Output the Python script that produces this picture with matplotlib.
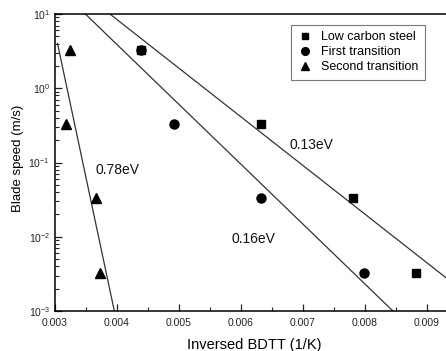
import numpy as np
import matplotlib.pyplot as plt

plt.rcParams["font.family"] = ["Liberation Sans", "DejaVu Sans"]

# Inverse brittle-ductile transition temperature (1/K) vs blade speed (m/s)
steel_x = [0.00439, 0.00633, 0.00780, 0.00883]
steel_v = [3.3, 0.33, 0.033, 0.0033]
first_x = [0.00439, 0.00492, 0.00633, 0.00799]
first_v = [3.3, 0.33, 0.033, 0.0033]
second_x = [0.00324, 0.00317, 0.00366, 0.00373]
second_v = [3.3, 0.33, 0.033, 0.0033]

# Arrhenius fits: activation energy (eV), x where v = 1e-3, drawn x range
fit_energy = [0.13, 0.16, 0.78]
fit_x_bottom = [0.00999, 0.00845, 0.003957]
fit_x_range = [(0.00389, 0.0100), (0.00339, 0.00845), (0.00304, 0.003957)]
fit_labels = ["0.13eV", "0.16eV", "0.78eV"]
label_pos = [(0.00679, 0.172), (0.00584, 0.0093), (0.00365, 0.079)]

K_B = 8.617e-5

fig = plt.figure(figsize=(4.46, 3.51), dpi=100)
# axes run past the right edge of the figure
ax = fig.add_axes([55 / 446, 1 - 311 / 351, 434 / 446, 297 / 351])

for E, xb, (x0, x1), lab, (tx, ty) in zip(fit_energy, fit_x_bottom, fit_x_range,
                                         fit_labels, label_pos):
    slope = E / (K_B * np.log(10))
    xs = np.array([x0, x1])
    ax.plot(xs, 10 ** (-3 + slope * (xb - xs)), color="#333333", lw=0.9)
    ax.text(tx, ty, lab, fontsize=10, color="#111111", va="center")

ax.plot(steel_x, steel_v, "s", color="black", ms=5.5, label="Low carbon steel")
ax.plot(first_x, first_v, "o", color="black", ms=6.5, label="First transition")
ax.plot(second_x, second_v, "^", color="black", ms=6.5, label="Second transition")

ax.set_yscale("log")
ax.set_xlim(0.003, 0.010)
ax.set_ylim(1e-3, 10)
ax.set_xticks([0.003, 0.004, 0.005, 0.006, 0.007, 0.008, 0.009])
ax.set_xticklabels(["0.003", "0.004", "0.005", "0.006", "0.007", "0.008", "0.009"])
ax.set_xticks(np.arange(0.0035, 0.0100, 0.001), minor=True)
ax.tick_params(which="both", direction="in", labelsize=7.5, colors="#222222")
ax.tick_params(which="major", length=5, width=0.9)
ax.tick_params(which="minor", length=3, width=0.8)
ax.tick_params(axis="x", which="major", pad=5)
for s in ax.spines.values():
    s.set_linewidth(1.1)

ax.set_xlabel("Inversed BDTT (1/K)", fontsize=10.5)
ax.xaxis.set_label_coords((254 - 55) / 434, -0.092)
ax.set_ylabel("Blade speed (m/s)", fontsize=9.5)
ax.yaxis.set_label_coords((24 - 55) / 434, (311 - 158) / 297)

leg = ax.legend(loc="upper left", bbox_to_anchor=((291 - 55) / 434, 1 - 11 / 297),
                fontsize=9, frameon=True, fancybox=False, edgecolor="#555555",
                handletextpad=0.7, handlelength=1.2, labelspacing=0.25,
                borderpad=0.5, borderaxespad=0, markerscale=0.85)
leg.get_frame().set_linewidth(0.8)

fig.savefig("out.png", dpi=100)
